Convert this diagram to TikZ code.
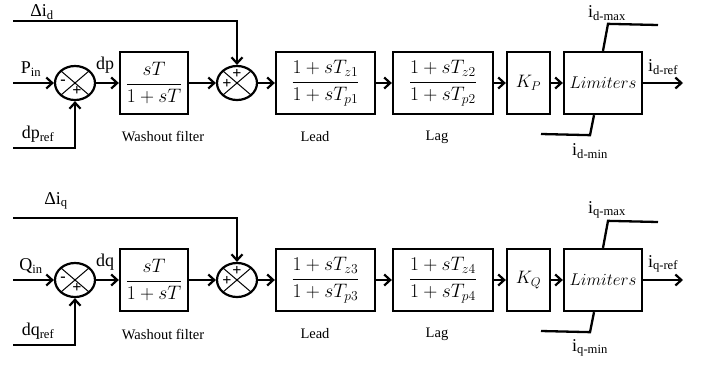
\RequirePackage{fix-cm}
\documentclass[tikz,border=0pt]{standalone}
\usepackage{fontspec}
\setmainfont{Liberation Serif}
\usetikzlibrary{arrows.meta,shapes.geometric}
\tikzset{
 wire/.style={line width=2.3pt},
 arr/.style={wire,-{Straight Barb[length=6pt,width=11pt,line width=2.2pt]}},
 blk/.style={draw,line width=2.3pt,minimum height=62pt,inner sep=0pt},
 sumn/.style={draw,ellipse,line width=2.2pt,minimum width=40pt,minimum height=34pt,inner sep=0pt},
 lbl/.style={font=\fontsize{18}{20}\selectfont,inner sep=0pt},
 capt/.style={font=\fontsize{14.5}{16}\selectfont,inner sep=0pt},
 sgn/.style={font=\fontsize{16}{17}\selectfont\bfseries,inner sep=0pt},
 fr/.style={font=\fontsize{19.5}{22}\selectfont},
 xline/.style={line width=1pt},
}
\begin{document}
\begin{tikzpicture}[x=1pt,y=-1pt]
\useasboundingbox (0,0) rectangle (702,373);
\foreach \r/\yc/\In/\dd/\ax/\ay/\za/\pa/\zb/\pb/\K in {d/83/P/p/42/71/z1/p1/z2/p2/P, q/280/Q/q/56/79/z3/p3/z4/p4/Q}{
 % summing junctions
 \node[sumn] (sa\r) at (75,\yc) {};
 \draw[xline] (sa\r.north west) -- (sa\r.south east) (sa\r.north east) -- (sa\r.south west);
 \node[sgn] at ([shift={(-12,-1)}]sa\r.center) {-};
 \node[sgn] at ([shift={(2,8)}]sa\r.center) {+};
 \node[sumn] (sb\r) at (237,\yc) {};
 \draw[xline] (sb\r.north west) -- (sb\r.south east) (sb\r.north east) -- (sb\r.south west);
 \node[sgn] at ([shift={(0,-9)}]sb\r.center) {+};
 \node[sgn] at ([shift={(-10,1)}]sb\r.center) {+};
 % blocks
 \node[blk,minimum width=68pt,fr] (wo\r) at (154,\yc) {$\displaystyle\frac{sT}{1+sT}$};
 \node[blk,minimum width=99pt,fr] (ld\r) at (325.5,\yc) {$\displaystyle\frac{1+sT_{\za}}{1+sT_{\pa}}$};
 \node[blk,minimum width=100pt,fr] (lg\r) at (443,\yc) {$\displaystyle\frac{1+sT_{\zb}}{1+sT_{\pb}}$};
 \node[blk,minimum width=43pt,font=\fontsize{18}{20}\selectfont] (k\r) at (528.5,\yc) {$K_{\K}$};
 \node[blk,minimum width=78pt,font=\fontsize{17}{19}\selectfont] (lm\r) at (603,\yc) {$Limiters$};
 % coordinates
 \coordinate (in\r) at (13,\yc);
 \coordinate (dl\r) at (13,\yc-62);
 \coordinate (rf\r) at (13,\yc+65);
 \coordinate (out\r) at (683,\yc);
 \coordinate (mx\r) at (658,\yc-58);
 \coordinate (mn\r) at (541,\yc+51);
 % connectors
 \draw[arr] (in\r) -- (sa\r.west);
 \draw[arr] (rf\r) -| (sa\r.south);
 \draw[arr] (dl\r) -| (sb\r.north);
 \draw[arr] (sa\r.east) -- (wo\r.west);
 \draw[arr] (wo\r.east) -- (sb\r.west);
 \draw[arr] (sb\r.east) -- (ld\r.west);
 \draw[arr] (ld\r.east) -- (lg\r.west);
 \draw[arr] (lg\r.east) -- (k\r.west);
 \draw[arr] (k\r.east) -- (lm\r.west);
 \draw[arr] (lm\r.east) -- (out\r);
 \draw[wire] (lm\r.north) -- ++(5,-27) -- (mx\r);
 \draw[wire] ([xshift=-9pt]lm\r.south) -- ++(-4,20) -- (mn\r);
 % labels
 \node[lbl] at (\ax,\yc-\ay) {Δi\textsubscript{\r}};
 \node[lbl] at (31,\yc-14) {\In\textsubscript{in}};
 \node[lbl] at (105,\yc-18) {d\dd};
 \node[lbl] at (38,\yc+51) {d\dd\textsubscript{ref}};
 \node[capt] at (163,\yc+54) {Washout filter};
 \node[capt] at (315,\yc+54) {Lead};
 \node[capt] at (437,\yc+54) {Lag};
 \node[lbl] at (607,\yc-70) {i\textsubscript{\r-max}};
 \node[lbl] at (590,\yc+68) {i\textsubscript{\r-min}};
 \node[lbl] at (663,\yc-16) {i\textsubscript{\r-ref}};
}
\end{tikzpicture}
\end{document}
